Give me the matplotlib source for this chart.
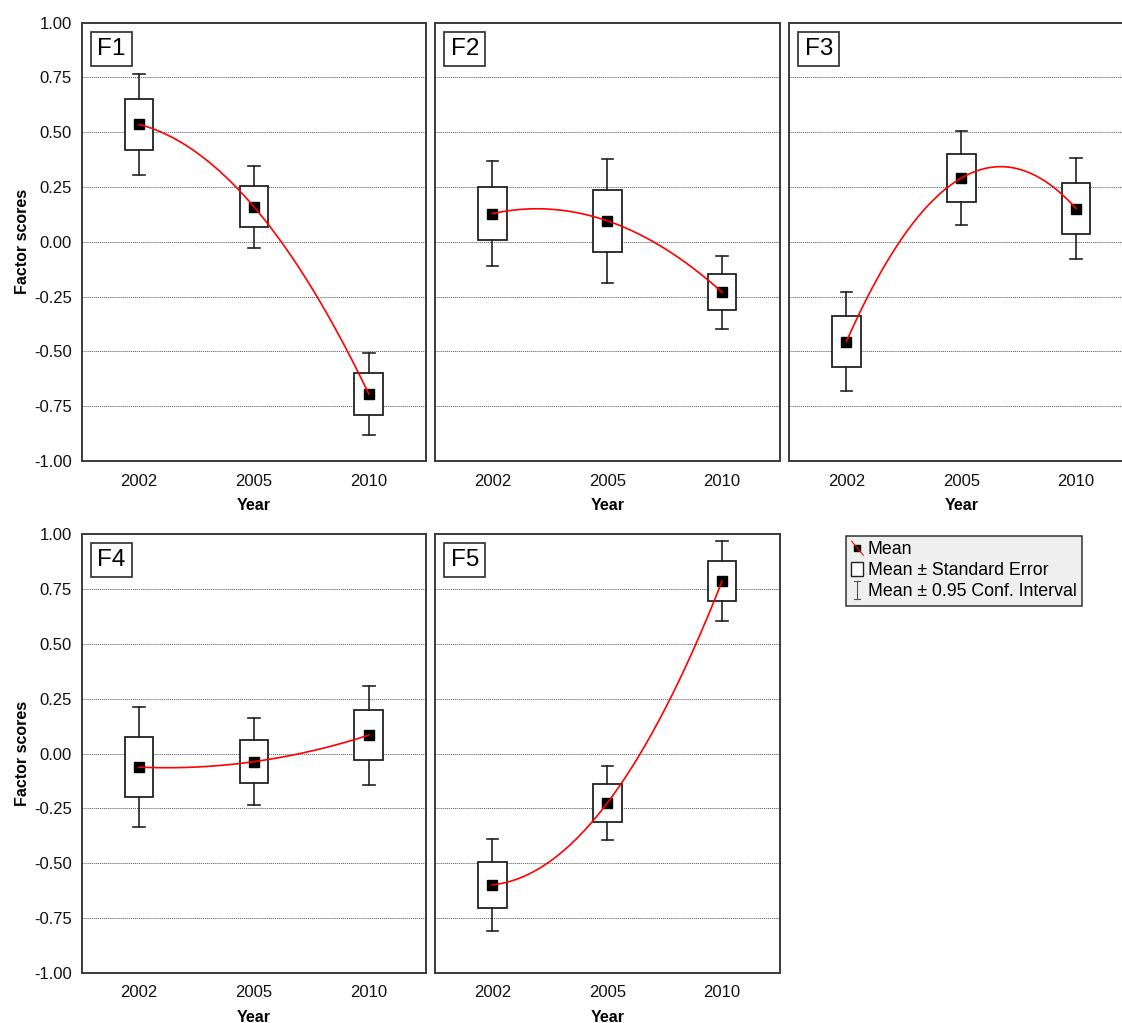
import numpy as np
import matplotlib
matplotlib.use("Agg")
import matplotlib.pyplot as plt
from matplotlib.lines import Line2D
from matplotlib.patches import Rectangle
from matplotlib.legend_handler import HandlerBase

plt.rcParams['font.family'] = ['Liberation Sans', 'DejaVu Sans']
plt.rcParams['axes.unicode_minus'] = False

years = ["2002", "2005", "2010"]
factors = ["F1", "F2", "F3", "F4", "F5"]

# Means, standard errors and 95% CI half-widths per factor (2002, 2005, 2010)
f1_mean = [0.536, 0.160, -0.694]
f1_se = [0.1155, 0.094, 0.094]
f1_ci = [0.2315, 0.187, 0.1885]

f2_mean = [0.129, 0.096, -0.230]
f2_se = [0.1195, 0.1405, 0.0825]
f2_ci = [0.238, 0.2815, 0.166]

f3_mean = [-0.455, 0.291, 0.152]
f3_se = [0.1145, 0.108, 0.116]
f3_ci = [0.2255, 0.213, 0.2305]

f4_mean = [-0.062, -0.037, 0.084]
f4_se = [0.1375, 0.0995, 0.1125]
f4_ci = [0.275, 0.200, 0.226]

f5_mean = [-0.599, -0.226, 0.787]
f5_se = [0.1055, 0.0855, 0.0895]
f5_ci = [0.2105, 0.1705, 0.181]

y_ticks = [-1.00, -0.75, -0.50, -0.25, 0.00, 0.25, 0.50, 0.75, 1.00]

series = [(f1_mean, f1_se, f1_ci), (f2_mean, f2_se, f2_ci), (f3_mean, f3_se, f3_ci),
          (f4_mean, f4_se, f4_ci), (f5_mean, f5_se, f5_ci)]

W, H = 1122, 1023
fig = plt.figure(figsize=(W / 100, H / 100), dpi=100)

frame_col = '#3a3a3a'
ax_w = 344.5 / W
ax_h = 438.3 / H
lefts = [81.7 / W, 435.0 / W, 789.0 / W]
bottoms = [1 - 461.0 / H, 1 - 972.7 / H]

positions = [(lefts[0], bottoms[0]), (lefts[1], bottoms[0]), (lefts[2], bottoms[0]),
             (lefts[0], bottoms[1]), (lefts[1], bottoms[1])]

for i, (name, (m, se, ci)) in enumerate(zip(factors, series)):
    l, b = positions[i]
    ax = fig.add_axes([l, b, ax_w, ax_h])
    x = np.arange(len(years))
    m = np.asarray(m); se = np.asarray(se); ci = np.asarray(ci)
    stats = []
    for k in range(len(years)):
        stats.append(dict(med=m[k], mean=m[k], q1=m[k] - se[k], q3=m[k] + se[k],
                          whislo=m[k] - ci[k], whishi=m[k] + ci[k], fliers=[]))
    ax.bxp(stats, positions=x, widths=0.25, capwidths=0.1, patch_artist=True,
           showmeans=True, showfliers=False,
           boxprops=dict(facecolor='white', edgecolor='#222222', linewidth=1.3),
           whiskerprops=dict(color='#222222', linewidth=1.2),
           capprops=dict(color='#222222', linewidth=1.2),
           medianprops=dict(linewidth=0),
           meanprops=dict(marker='s', markerfacecolor='black', markeredgecolor='black',
                          markersize=6.5))
    # quadratic fit curve through means
    coef = np.polyfit(x, m, 2)
    xs = np.linspace(0, 2, 200)
    ax.plot(xs, np.polyval(coef, xs), color='#ff0000', linewidth=1.2, zorder=5)

    ax.set_xlim(-0.5, 2.5)
    ax.set_ylim(-1, 1)
    ax.set_xticks(x)
    ax.set_xticklabels(years)
    ax.set_yticks(y_ticks)
    ax.set_yticklabels([f"{v:.2f}" for v in y_ticks])
    for v in y_ticks[1:-1]:
        ax.axhline(v, color='#555555', linestyle=(0, (1, 1)), linewidth=0.7, zorder=0)
    ax.tick_params(axis='both', length=0, labelsize=12, colors='#111111')
    ax.tick_params(axis='x', pad=9)
    ax.tick_params(axis='y', pad=7)
    for sp in ax.spines.values():
        sp.set_color(frame_col)
        sp.set_linewidth(1.4)
    ax.set_xlabel("Year", fontsize=11.5, fontweight='bold', labelpad=7)
    if i in (0, 3):
        ax.set_ylabel("Factor scores", fontsize=11.5, fontweight='bold', labelpad=3)
    else:
        ax.set_yticklabels([])
    ax.text(0.045, 0.966, name, transform=ax.transAxes, ha='left', va='top',
            fontsize=17.5, zorder=10,
            bbox=dict(boxstyle='square,pad=0.25', facecolor='white',
                      edgecolor=frame_col, linewidth=1.3))


class GlyphHandler(HandlerBase):
    def __init__(self, kind):
        super().__init__()
        self.kind = kind

    def create_artists(self, legend, orig_handle, xdescent, ydescent, width, height,
                       fontsize, trans):
        cx = width / 2 - xdescent
        cy = height / 2 - ydescent
        if self.kind == 'mean':
            sq = Line2D([cx], [cy], marker='s', markersize=5, color='black',
                        linestyle='none', transform=trans)
            ln = Line2D([cx - 4.2, cx + 4.2], [cy + 5, cy - 5], color='#ff0000',
                        linewidth=0.8, transform=trans)
            return [sq, ln]
        if self.kind == 'se':
            r = Rectangle((cx - 4.3, cy - 5), 8.6, 10, facecolor='white',
                          edgecolor='#222222', linewidth=1.0, transform=trans)
            return [r]
        v = Line2D([cx, cx], [cy - 6.3, cy + 6.3], color='#555555', linewidth=0.8,
                   transform=trans)
        c1 = Line2D([cx - 2.2, cx + 2.2], [cy + 6.3, cy + 6.3], color='#555555',
                    linewidth=0.8, transform=trans)
        c2 = Line2D([cx - 2.2, cx + 2.2], [cy - 6.3, cy - 6.3], color='#555555',
                    linewidth=0.8, transform=trans)
        return [v, c1, c2]


h_mean = Line2D([], [])
h_se = Rectangle((0, 0), 1, 1)
h_ci = Line2D([], [], marker='|')
labels = ["Mean", "Mean \u00b1 Standard Error", "Mean \u00b1 0.95 Conf. Interval"]
leg = fig.legend([h_mean, h_se, h_ci], labels,
                 handler_map={h_mean: GlyphHandler('mean'), h_se: GlyphHandler('se'),
                              h_ci: GlyphHandler('ci')},
                 loc='upper left', bbox_to_anchor=(845.7 / W, 1 - 535.7 / H),
                 bbox_transform=fig.transFigure, borderaxespad=0,
                 frameon=True, fancybox=False, framealpha=1,
                 facecolor='#efefef', edgecolor='#333333',
                 fontsize=12.8, handlelength=0.68, handletextpad=0.25,
                 borderpad=0.32, labelspacing=0.22)
leg.get_frame().set_linewidth(1.1)

fig.savefig("out.png", dpi=100)
